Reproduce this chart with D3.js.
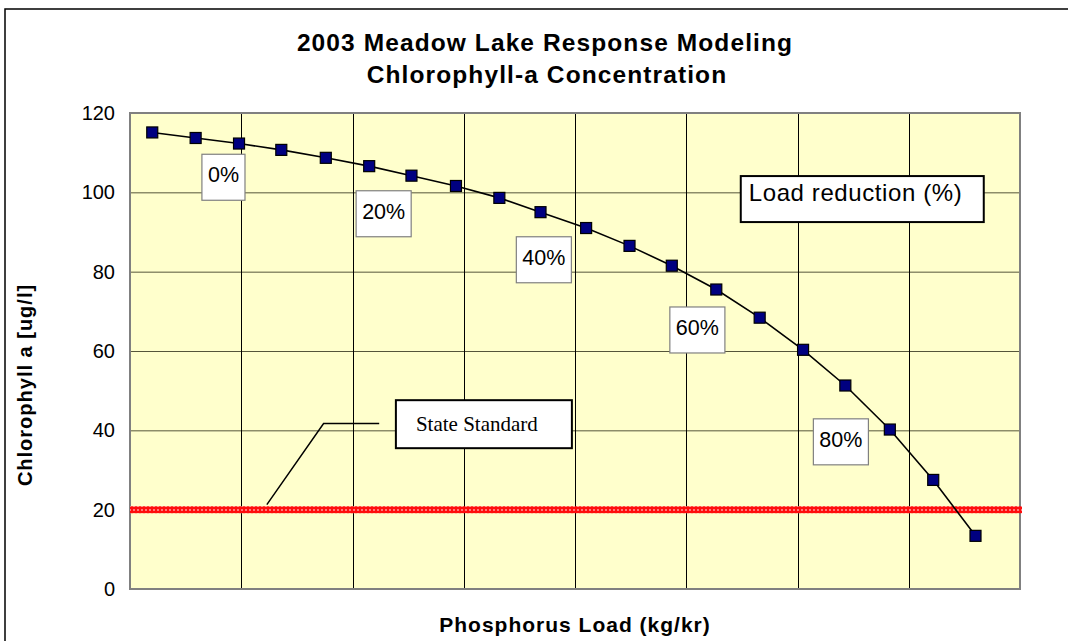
<!DOCTYPE html>
<html>
<head>
<meta charset="utf-8">
<script src="https://cdn.jsdelivr.net/npm/d3@7"></script>
<style>
  body { margin: 0; background: #fff; }
</style>
</head>
<body>
<svg id="chart" width="1068" height="641" font-family="Liberation Sans, Arial, sans-serif"></svg>
<script>
(function() {
    // phosphorus load (position along the x axis, axis unlabelled)
    var loads = [0.20, 0.59, 0.98, 1.36, 1.76, 2.15, 2.53, 2.93, 3.32, 3.69, 4.10, 4.49, 4.87, 5.27, 5.66, 6.05, 6.43, 6.83, 7.22, 7.60];
    // chlorophyll-a [ug/l]
    var chla = [115.1, 113.7, 112.3, 110.7, 108.7, 106.6, 104.2, 101.6, 98.6, 95.0, 91.0, 86.5, 81.5, 75.5, 68.4, 60.3, 51.3, 40.2, 27.5, 13.4];
    var yTicks = [0, 20, 40, 60, 80, 100, 120];
    var xGrid = [1, 2, 3, 4, 5, 6, 7];
    var stateStandard = 20;

    // load reduction labels, placed in data units (centre of the box)
    var reductionLabels = ["0%", "20%", "40%", "60%", "80%"];
    var reductionX = [0.84, 2.28, 3.72, 5.10, 6.39];
    var reductionY = [103.8, 94.6, 83.0, 65.3, 37.1];

    var svg = d3.select("#chart"),
        left = 130, right = 1020, top = 113, bottom = 589;

    var x = d3.scaleLinear().domain([0, 8]).range([left, right]);
    var y = d3.scaleLinear().domain([0, 120]).range([bottom, top]);

    //cadre du graphique
    svg.append("rect")
        .attr("x", 5).attr("y", 9)
        .attr("width", 1100).attr("height", 700)
        .attr("fill", "#fff").attr("stroke", "#000").attr("stroke-width", 1.5);

    //motif de la ligne rouge
    var defs = svg.append("defs");
    var pat = defs.append("pattern")
        .attr("id", "redDots")
        .attr("patternUnits", "userSpaceOnUse")
        .attr("width", 4).attr("height", 4);
    pat.append("rect").attr("width", 4).attr("height", 4).attr("fill", "#ff0d0d");
    pat.append("rect").attr("x", 1).attr("y", 1).attr("width", 2).attr("height", 2).attr("fill", "#ff7a7a");

    //titre
    var title = svg.append("g")
        .attr("font-weight", "bold")
        .attr("font-size", 24.5)
        .attr("letter-spacing", 1.1)
        .attr("text-anchor", "middle");
    title.append("text").attr("x", 545).attr("y", 51).text("2003 Meadow Lake Response Modeling");
    title.append("text").attr("x", 547).attr("y", 83).text("Chlorophyll-a Concentration");

    //zone de traçage
    svg.append("rect")
        .attr("x", left).attr("y", top)
        .attr("width", right - left).attr("height", bottom - top)
        .attr("fill", "#ffffcc");

    svg.append("g").selectAll("line")
        .data(yTicks.filter(function(d) { return d > 0 && d < 120; }))
        .join("line")
        .attr("x1", left).attr("x2", right)
        .attr("y1", function(d) { return y(d) + 0.5; })
        .attr("y2", function(d) { return y(d) + 0.5; })
        .attr("stroke", "#55553a").attr("stroke-width", 1);

    svg.append("g").selectAll("line")
        .data(xGrid)
        .join("line")
        .attr("x1", function(d) { return Math.round(x(d)) + 0.5; })
        .attr("x2", function(d) { return Math.round(x(d)) + 0.5; })
        .attr("y1", top).attr("y2", bottom)
        .attr("stroke", "#000").attr("stroke-width", 1);

    svg.append("rect")
        .attr("x", left).attr("y", top)
        .attr("width", right - left).attr("height", bottom - top)
        .attr("fill", "none").attr("stroke", "#808080").attr("stroke-width", 2);

    //axe y
    var yAxis = svg.append("g")
        .attr("transform", "translate(" + (left - 15) + ",0)")
        .call(d3.axisLeft(y).tickValues(yTicks).tickSize(0).tickPadding(0));
    yAxis.select(".domain").remove();
    yAxis.attr("font-family", null).attr("font-size", 20);
    yAxis.selectAll("text").attr("fill", "#000");

    svg.append("text")
        .attr("transform", "translate(32,385) rotate(-90)")
        .attr("text-anchor", "middle")
        .attr("font-weight", "bold").attr("font-size", 20).attr("letter-spacing", 1)
        .text("Chlorophyll a [ug/l]");

    svg.append("text")
        .attr("x", 575).attr("y", 632)
        .attr("text-anchor", "middle")
        .attr("font-weight", "bold").attr("font-size", 21).attr("letter-spacing", 1)
        .text("Phosphorus Load (kg/kr)");

    //norme de l'état
    svg.append("line")
        .attr("x1", left).attr("x2", right + 2)
        .attr("y1", y(stateStandard)).attr("y2", y(stateStandard))
        .attr("stroke", "url(#redDots)").attr("stroke-width", 7);

    //courbe
    var pts = loads.map(function(d, i) { return [d, chla[i]]; });
    svg.append("path")
        .datum(pts)
        .attr("fill", "none").attr("stroke", "#000").attr("stroke-width", 1.6)
        .attr("d", d3.line().x(function(d) { return x(d[0]); }).y(function(d) { return y(d[1]); }));

    svg.append("g").selectAll("rect")
        .data(pts)
        .join("rect")
        .attr("x", function(d) { return x(d[0]) - 5.5; })
        .attr("y", function(d) { return y(d[1]) - 5.5; })
        .attr("width", 11).attr("height", 11)
        .attr("fill", "#000080").attr("stroke", "#000").attr("stroke-width", 1.2);

    //étiquettes de réduction
    reductionLabels.forEach(function(lab, i) {
        var g = svg.append("g")
            .attr("transform", "translate(" + x(reductionX[i]) + "," + y(reductionY[i]) + ")");
        var box = g.append("rect").attr("fill", "#fff").attr("stroke", "#808080").attr("stroke-width", 1.2);
        var t = g.append("text")
            .attr("text-anchor", "middle").attr("y", 5)
            .attr("font-size", 21.5)
            .text(lab);
        var w = t.node().getComputedTextLength() + 12;
        box.attr("x", -w / 2).attr("y", -23).attr("width", w).attr("height", 46);
    });

    //Load reduction (%)
    var lr = svg.append("g").attr("transform", "translate(" + x(5.49) + "," + y(104.1) + ")");
    lr.append("rect").attr("width", 243).attr("height", 46)
        .attr("fill", "#fff").attr("stroke", "#000").attr("stroke-width", 2);
    lr.append("text").attr("x", 8).attr("y", 25)
        .attr("font-size", 24).attr("letter-spacing", 0.6)
        .text("Load reduction (%)");

    //State Standard
    svg.append("path")
        .attr("fill", "none").attr("stroke", "#000").attr("stroke-width", 1.5)
        .attr("d", d3.line()([[x(2.24), y(41.7)], [x(1.74), y(41.7)], [x(1.23), y(stateStandard) - 5]]));
    var ss = svg.append("g").attr("transform", "translate(" + x(2.39) + "," + y(47.6) + ")");
    ss.append("rect").attr("width", 176).attr("height", 48)
        .attr("fill", "#fff").attr("stroke", "#000").attr("stroke-width", 2);
    ss.append("text").attr("x", 20).attr("y", 31)
        .attr("font-family", "Liberation Serif, Times New Roman, serif")
        .attr("font-size", 21)
        .text("State Standard");
})();
</script>
</body>
</html>
